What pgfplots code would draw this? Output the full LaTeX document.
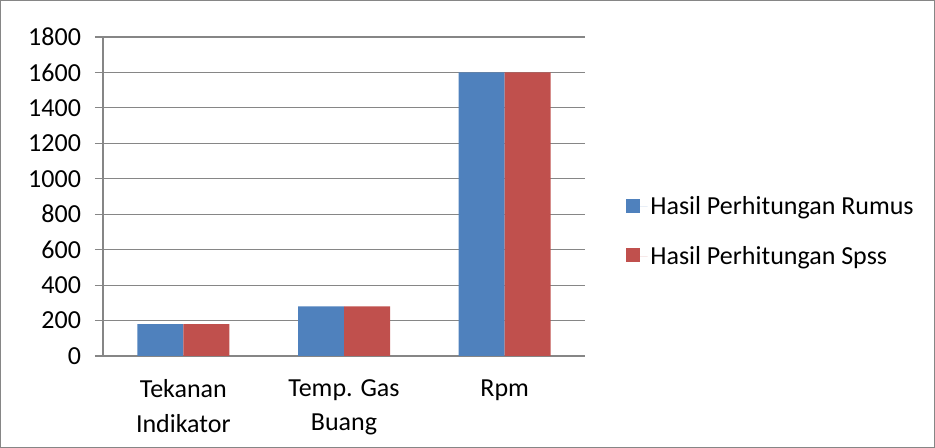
\documentclass[border=0pt]{standalone}
\usepackage{pgfplots}
\pgfplotsset{compat=1.18}
\usepackage{fontspec}
\setmainfont{Carlito}
\definecolor{xblue}{HTML}{4F81BD}
\definecolor{xred}{HTML}{C0504D}
\definecolor{xgrid}{HTML}{868686}
\begin{document}
\begin{tikzpicture}[x=1pt,y=1pt]
\draw[xgrid, line width=0.8pt] (0.4,0.4) rectangle (700.85,335.6);
\begin{axis}[
  at={(77.25pt,69pt)}, anchor=south west,
  scale only axis, width=361.5pt, height=239.25pt,
  ybar, bar width=34.5pt,
  xmin=-0.5, xmax=2.5, ymin=0, ymax=1800,
  ytick={0,200,...,1800},
  xtick={0,1,2},
  xticklabels={{Tekanan\\Indikator},{Temp. Gas\\Buang},{Rpm}},
  major x tick style={draw=none},
  extra x ticks={-0.5,0.5,1.5,2.5},
  extra x tick labels={},
  extra x tick style={major tick length=6pt, tick align=outside, xtick style={draw=xgrid, line width=0.8pt}},
  axis x line*=bottom, axis y line*=left,
  axis line style={xgrid, line width=0.8pt, -},
  ymajorgrids, grid style={xgrid, line width=0.8pt},
  ytick style={draw=xgrid, line width=0.8pt},
  tick align=outside, major tick length=6pt,
  /pgf/number format/assume math mode=true,
  /pgf/number format/1000 sep={},
  tick label style={font=\fontsize{19.5}{26}\selectfont, black},
  xticklabel style={align=center, yshift=-8pt},
  yticklabel style={xshift=-7pt},
  legend style={at={(1.077,0.39)}, anchor=west, draw=none, fill=none,
    font=\fontsize{19.5}{24}\selectfont, row sep=18pt,
    /tikz/every even column/.append style={column sep=2pt}},
  legend image code/.code={\fill[#1] (0pt,-4.5pt) rectangle (10.5pt,6pt); \path (0pt,0pt) -- (16pt,0pt);},
  legend cell align=left,
]
\addplot[fill=xblue, draw=none, bar shift=-17.25pt] coordinates {(0,180) (1,280) (2,1600)};
\addplot[fill=xred, draw=none, bar shift=17.25pt] coordinates {(0,180) (1,280) (2,1600)};
\legend{Hasil Perhitungan Rumus, Hasil Perhitungan Spss}
\end{axis}
\end{tikzpicture}
\end{document}
